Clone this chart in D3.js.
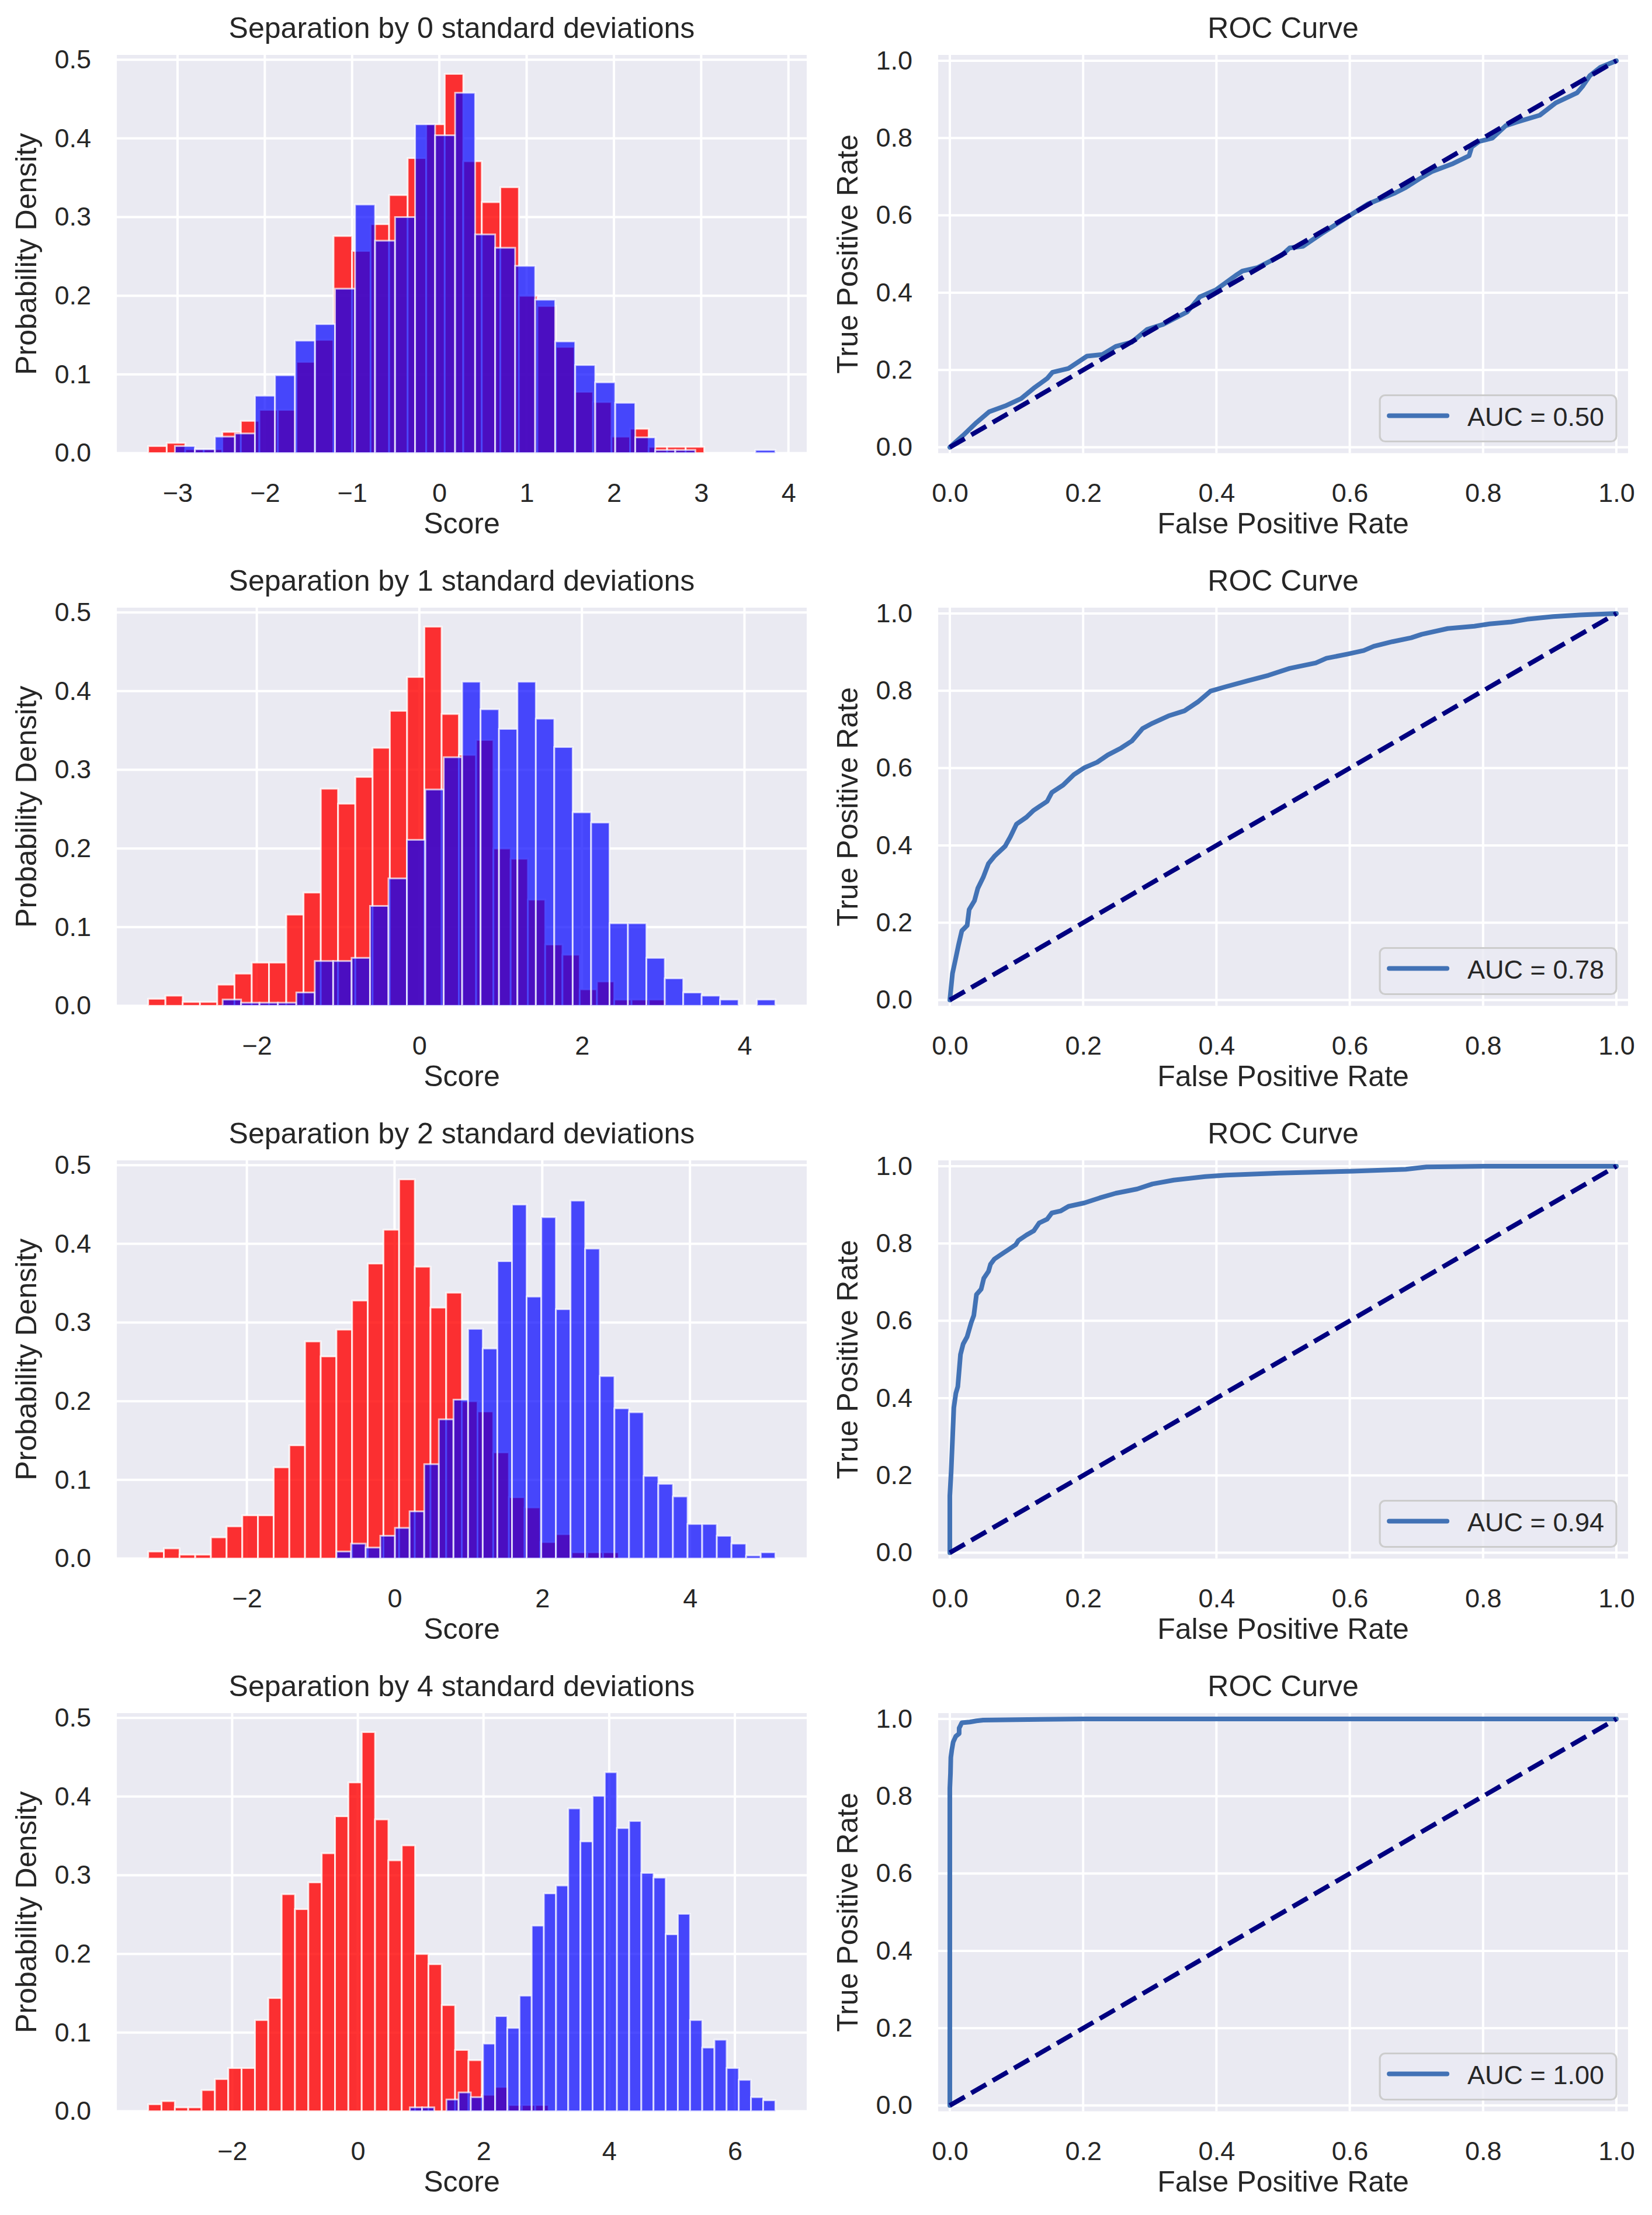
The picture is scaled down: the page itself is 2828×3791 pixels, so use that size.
<!DOCTYPE html>
<html>
<head>
<meta charset="utf-8">
<script src="https://cdn.jsdelivr.net/npm/d3@7"></script>
<style>
  body { margin: 0; background: #fff; }
  svg text { font-family: "Liberation Sans", Arial, sans-serif; fill: #262626; }
</style>
</head>
<body>
<div id="chart"></div>
<script>
/**
 * data
 */

// negative class (red), same sample in every row: 30 bins between these edges
const redRange = [-3.336, 3.035];
const redDensity = [0.009, 0.013, 0.005, 0.005, 0.027, 0.041, 0.055, 0.055, 0.116, 0.144,
                    0.276, 0.257, 0.291, 0.328, 0.375, 0.418, 0.482, 0.371, 0.319, 0.338,
                    0.200, 0.187, 0.135, 0.078, 0.065, 0.021, 0.031, 0.008, 0.008, 0.008];

// positive class (blue), one sample per separation
const separations = [0, 1, 2, 4];
const blueRanges = [[-3.03, 3.85], [-2.42, 4.38], [-0.787, 5.156], [0.828, 6.644]];
const blueDensity0 = [0.009, 0.005, 0.021, 0.025, 0.073, 0.099, 0.143, 0.164, 0.209, 0.316,
                      0.270, 0.300, 0.418, 0.404, 0.458, 0.278, 0.261, 0.238, 0.195, 0.142,
                      0.112, 0.090, 0.064, 0.020, 0.004, 0.004, 0, 0, 0, 0.004];
const blueDensity1 = [0.008, 0.004, 0.004, 0.004, 0.017, 0.057, 0.057, 0.061, 0.127, 0.162,
                      0.211, 0.275, 0.316, 0.412, 0.377, 0.352, 0.412, 0.365, 0.329, 0.246,
                      0.233, 0.105, 0.105, 0.061, 0.035, 0.017, 0.013, 0.008, 0, 0.008];
const blueDensity2 = [0.009, 0.019, 0.014, 0.029, 0.039, 0.060, 0.120, 0.177, 0.202, 0.292,
                      0.267, 0.378, 0.450, 0.333, 0.434, 0.317, 0.455, 0.394, 0.232, 0.191,
                      0.186, 0.105, 0.095, 0.079, 0.044, 0.044, 0.029, 0.019, 0.004, 0.008];
const blueDensity4 = [0.005, 0.005, 0, 0.015, 0.024, 0.018, 0.086, 0.121, 0.106, 0.147,
                      0.236, 0.277, 0.287, 0.385, 0.343, 0.401, 0.431, 0.360, 0.369, 0.303,
                      0.297, 0.225, 0.251, 0.116, 0.081, 0.091, 0.055, 0.040, 0.018, 0.014];
const blueDensities = [blueDensity0, blueDensity1, blueDensity2, blueDensity4];

const histXTicks = [[-3, -2, -1, 0, 1, 2, 3, 4], [-2, 0, 2, 4], [-2, 0, 2, 4], [-2, 0, 2, 4, 6]];
const histYTicks = [0, 0.1, 0.2, 0.3, 0.4, 0.5];

// ROC curves
const rocFpr0 = [0, 0.02, 0.04, 0.059, 0.083, 0.107, 0.126, 0.146, 0.154, 0.178,
                 0.206, 0.229, 0.249, 0.273, 0.296, 0.32, 0.356, 0.375, 0.399, 0.431,
                 0.439, 0.462, 0.498, 0.51, 0.53, 0.557, 0.597, 0.628, 0.668, 0.684,
                 0.704, 0.723, 0.755, 0.779, 0.783, 0.794, 0.814, 0.834, 0.85, 0.885,
                 0.909, 0.941, 0.949, 0.96, 0.976, 1];
const rocTpr0 = [0, 0.031, 0.064, 0.092, 0.107, 0.126, 0.153, 0.178, 0.194, 0.204,
                 0.236, 0.24, 0.261, 0.272, 0.305, 0.318, 0.35, 0.389, 0.407, 0.447,
                 0.456, 0.465, 0.497, 0.516, 0.52, 0.552, 0.596, 0.63, 0.658, 0.672,
                 0.694, 0.713, 0.734, 0.754, 0.777, 0.791, 0.8, 0.832, 0.841, 0.859,
                 0.891, 0.917, 0.933, 0.961, 0.983, 1];
const rocFpr1 = [0, 0.004, 0.008, 0.013, 0.018, 0.026, 0.029, 0.037, 0.042, 0.05,
                 0.058, 0.067, 0.083, 0.091, 0.1, 0.115, 0.126, 0.146, 0.153, 0.17,
                 0.186, 0.202, 0.221, 0.237, 0.257, 0.273, 0.289, 0.304, 0.328, 0.352,
                 0.372, 0.391, 0.415, 0.447, 0.478, 0.51, 0.549, 0.565, 0.597, 0.621,
                 0.636, 0.664, 0.692, 0.708, 0.747, 0.787, 0.81, 0.842, 0.866, 0.905,
                 0.945, 1];
const rocTpr1 = [0, 0.069, 0.101, 0.142, 0.179, 0.193, 0.234, 0.257, 0.289, 0.317,
                 0.353, 0.372, 0.398, 0.423, 0.455, 0.473, 0.491, 0.514, 0.537, 0.556,
                 0.583, 0.601, 0.615, 0.634, 0.652, 0.67, 0.702, 0.716, 0.735, 0.748,
                 0.771, 0.799, 0.811, 0.826, 0.84, 0.858, 0.872, 0.884, 0.895, 0.904,
                 0.915, 0.927, 0.937, 0.946, 0.961, 0.967, 0.973, 0.978, 0.985, 0.992,
                 0.996, 1];
const rocFpr2 = [0, 0, 0.002, 0.004, 0.006, 0.009, 0.012, 0.016, 0.02, 0.026,
                 0.032, 0.036, 0.04, 0.047, 0.051, 0.058, 0.061, 0.067, 0.079, 0.087,
                 0.099, 0.103, 0.115, 0.126, 0.134, 0.146, 0.153, 0.166, 0.178, 0.202,
                 0.225, 0.249, 0.281, 0.304, 0.336, 0.383, 0.415, 0.494, 0.605, 0.684,
                 0.715, 0.802, 1];
const rocTpr2 = [0, 0.147, 0.21, 0.293, 0.375, 0.412, 0.43, 0.513, 0.54, 0.559,
                 0.595, 0.614, 0.668, 0.682, 0.71, 0.728, 0.746, 0.76, 0.774, 0.783,
                 0.797, 0.808, 0.822, 0.833, 0.853, 0.863, 0.879, 0.884, 0.896, 0.905,
                 0.918, 0.93, 0.941, 0.954, 0.964, 0.973, 0.977, 0.982, 0.987, 0.992,
                 0.998, 1, 1];
const rocFpr4 = [0, 0, 0.001, 0.0015, 0.003, 0.005, 0.009, 0.014, 0.014, 0.018,
                 0.03, 0.04, 0.05, 0.1, 0.2, 1];
const rocTpr4 = [0, 0.82, 0.86, 0.9, 0.92, 0.94, 0.955, 0.962, 0.976, 0.99,
                 0.992, 0.995, 0.997, 0.998, 1, 1];
const rocFprs = [rocFpr0, rocFpr1, rocFpr2, rocFpr4];
const rocTprs = [rocTpr0, rocTpr1, rocTpr2, rocTpr4];
const aucLabels = ["AUC = 0.50", "AUC = 0.78", "AUC = 0.94", "AUC = 1.00"];
const chanceLine = [0, 1];
const rocTicks = [0, 0.2, 0.4, 0.6, 0.8, 1.0];

/**
 * layout
 */
const WIDTH = 2828;
const HEIGHT = 3791;
const ROW_TOP = 94;
const ROW_STEP = 946;
const AX_H = 681.5;
const AX_W = 1181;
const LEFT_X = 200;
const RIGHT_X = 1606;
const TICK_FONT = 45;
const LABEL_FONT = 50;
const BG = "#EAEAF2";
const ROC_COLOR = "#4272B5";

const svg = d3.select("#chart").append("svg")
              .attr("width", WIDTH)
              .attr("height", HEIGHT);

svg.append("rect").attr("width", WIDTH).attr("height", HEIGHT).attr("fill", "#fff");

function toBins(range, dens)
{
    const w = (range[1] - range[0]) / dens.length;
    return dens.map((d, i) => ({ x0: range[0] + i * w, x1: range[0] + (i + 1) * w, y: d }));
}

function drawFrame(g, x, y, xTicks, yTicks)
{
    g.append("rect")
     .attr("width", AX_W)
     .attr("height", AX_H)
     .attr("fill", BG);

    g.append("g").selectAll("line")
     .data(xTicks)
     .enter()
     .append("line")
     .attr("x1", d => x(d)).attr("x2", d => x(d))
     .attr("y1", 0).attr("y2", AX_H)
     .attr("stroke", "#fff").attr("stroke-width", 4);

    g.append("g").selectAll("line")
     .data(yTicks)
     .enter()
     .append("line")
     .attr("y1", d => y(d)).attr("y2", d => y(d))
     .attr("x1", 0).attr("x2", AX_W)
     .attr("stroke", "#fff").attr("stroke-width", 4);
}

function drawAxes(g, x, y, xTicks, yTicks, xFmt, yFmt, title, xLabel, yLabel)
{
    const xa = g.append("g")
                .attr("transform", `translate(0, ${AX_H})`)
                .call(d3.axisBottom(x).tickValues(xTicks).tickSize(0).tickPadding(52).tickFormat(xFmt));
    xa.select(".domain").remove();
    xa.attr("font-size", TICK_FONT);

    const ya = g.append("g")
                .call(d3.axisLeft(y).tickValues(yTicks).tickSize(0).tickPadding(44).tickFormat(yFmt));
    ya.select(".domain").remove();
    ya.attr("font-size", TICK_FONT);

    g.append("text")
     .attr("x", AX_W / 2)
     .attr("y", -29)
     .attr("text-anchor", "middle")
     .attr("font-size", LABEL_FONT)
     .text(title);

    g.append("text")
     .attr("x", AX_W / 2)
     .attr("y", AX_H + 137)
     .attr("text-anchor", "middle")
     .attr("font-size", LABEL_FONT)
     .text(xLabel);

    g.append("text")
     .attr("transform", `translate(-138, ${AX_H / 2}) rotate(-90)`)
     .attr("text-anchor", "middle")
     .attr("font-size", LABEL_FONT)
     .text(yLabel);
}

function drawHist(i)
{
    const top = ROW_TOP + i * ROW_STEP;
    const g = svg.append("g").attr("transform", `translate(${LEFT_X}, ${top})`);

    const red = toBins(redRange, redDensity);
    const blue = toBins(blueRanges[i], blueDensities[i]);

    const lo = Math.min(redRange[0], blueRanges[i][0]);
    const hi = Math.max(redRange[1], blueRanges[i][1]);
    const pad = (hi - lo) * 0.05;

    const x = d3.scaleLinear().domain([lo - pad, hi + pad]).range([0, AX_W]);
    const y = d3.scaleLinear()
                .domain([0, d3.max(red.concat(blue), d => d.y) * 1.05])
                .range([AX_H, 0]);

    drawFrame(g, x, y, histXTicks[i], histYTicks);

    const series = [
        { bins: red, color: "red", alpha: 0.8 },
        { bins: blue, color: "blue", alpha: 0.7 }
    ];

    series.forEach(s => {
        g.append("g").selectAll("rect")
         .data(s.bins.filter(d => d.y > 0))
         .enter()
         .append("rect")
         .attr("x", d => x(d.x0))
         .attr("width", d => x(d.x1) - x(d.x0))
         .attr("y", d => y(d.y))
         .attr("height", d => AX_H - y(d.y))
         .attr("fill", s.color)
         .attr("fill-opacity", s.alpha)
         .attr("stroke", "#fff")
         .attr("stroke-opacity", s.alpha)
         .attr("stroke-width", 3);
    });

    drawAxes(g, x, y, histXTicks[i], histYTicks, d3.format("d"), d3.format(".1f"),
             `Separation by ${separations[i]} standard deviations`, "Score", "Probability Density");
}

function drawRoc(i)
{
    const top = ROW_TOP + i * ROW_STEP;
    const g = svg.append("g").attr("transform", `translate(${RIGHT_X}, ${top})`);

    const x = d3.scaleLinear().domain([-0.0175, 1.0175]).range([0, AX_W]);
    const y = d3.scaleLinear().domain([-0.015, 1.015]).range([AX_H, 0]);

    drawFrame(g, x, y, rocTicks, rocTicks);

    const pts = rocFprs[i].map((f, k) => [f, rocTprs[i][k]]);
    const line = d3.line().x(d => x(d[0])).y(d => y(d[1]));

    g.append("path")
     .attr("d", line(pts))
     .attr("fill", "none")
     .attr("stroke", ROC_COLOR)
     .attr("stroke-width", 8)
     .attr("stroke-linejoin", "round")
     .attr("stroke-linecap", "round");

    g.append("path")
     .attr("d", line(chanceLine.map(v => [v, v])))
     .attr("fill", "none")
     .attr("stroke", "navy")
     .attr("stroke-width", 8)
     .attr("stroke-dasharray", "29.6,12.8");

    drawAxes(g, x, y, rocTicks, rocTicks, d3.format(".1f"), d3.format(".1f"),
             "ROC Curve", "False Positive Rate", "True Positive Rate");

    // legend, lower right
    const leg = g.append("g");
    const box = leg.append("rect");
    const label = leg.append("text")
                     .attr("font-size", TICK_FONT)
                     .text(aucLabels[i]);
    const tw = label.node().getComputedTextLength();
    const bw = 150 + tw + 21;
    const bh = 79;
    const bx = AX_W - 20 - bw;
    const by = AX_H - 20 - bh;

    box.attr("x", bx).attr("y", by)
       .attr("width", bw).attr("height", bh)
       .attr("rx", 9)
       .attr("fill", BG).attr("fill-opacity", 0.8)
       .attr("stroke", "#ccc").attr("stroke-width", 3.2);

    leg.append("line")
       .attr("x1", bx + 16).attr("x2", bx + 115)
       .attr("y1", by + 35).attr("y2", by + 35)
       .attr("stroke", ROC_COLOR)
       .attr("stroke-width", 8)
       .attr("stroke-linecap", "round");

    label.attr("x", bx + 150).attr("y", by + 52);
    label.raise();
}

separations.forEach((s, i) => {
    drawHist(i);
    drawRoc(i);
});
</script>
</body>
</html>
